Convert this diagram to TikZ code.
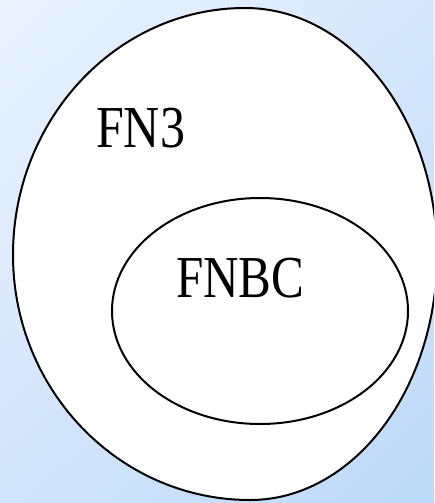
\documentclass[tikz,border=0pt]{standalone}
\usepackage{fontspec}
\setmainfont{Liberation Serif}
\usetikzlibrary{shapes.geometric,shadings}
\definecolor{bgul}{RGB}{234,243,254}
\definecolor{bgur}{RGB}{214,231,252}
\definecolor{bgll}{RGB}{210,228,251}
\definecolor{bglr}{RGB}{188,217,249}
\begin{document}
\begin{tikzpicture}[x=1pt,y=-1pt,
  outline/.style={draw=black,line width=2pt,fill=white},
  biglabel/.style={anchor=base west,inner sep=0pt,font=\fontsize{59.5}{60}\selectfont}]
\useasboundingbox (0,0) rectangle (434,503);
\shade[upper left=bgul,upper right=bgur,lower left=bgll,lower right=bglr]
  (0,0) rectangle (434,503);
\begin{scope}
\clip (0,0) rectangle (434,503);
\draw[outline] (245,8) .. controls (351,8) and (437,119) .. (437,255)
  .. controls (437,390) and (353,500) .. (250,500)
  .. controls (119,500) and (13,390) .. (13,255)
  .. controls (13,119) and (117,8) .. (245,8) -- cycle;
\end{scope}
\node[outline,ellipse,minimum width=296pt,minimum height=226pt,inner sep=0pt] (inner) at (260,311) {};
\node[biglabel] (fn3) at (96,147) {\scalebox{0.84}[1]{FN3}};
\node[biglabel] (fnbc) at (176,297) {\scalebox{0.825}[1]{FNBC}};
\end{tikzpicture}
\end{document}
